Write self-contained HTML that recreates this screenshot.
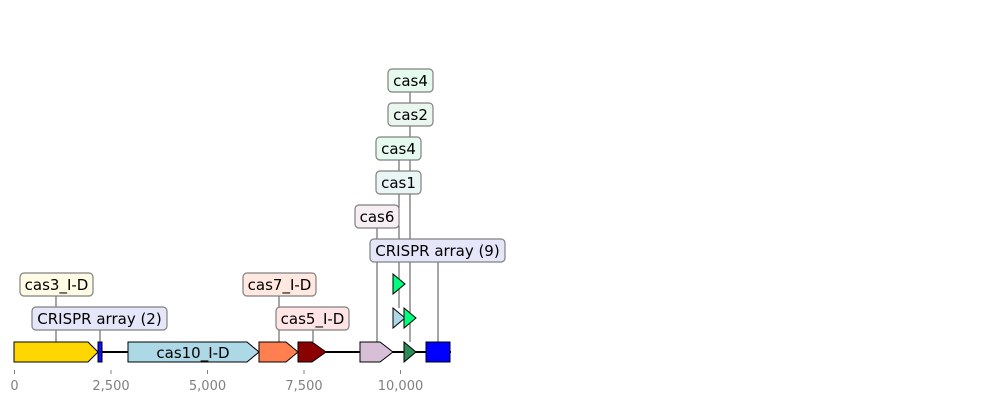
<!DOCTYPE html>
<html><head><meta charset="utf-8"><style>
html,body{margin:0;padding:0;background:#fff;}
svg{display:block;font-family:"DejaVu Sans","Liberation Sans",sans-serif;}
.lb{stroke:#808080;stroke-width:1.2;}
.t{font-size:15px;fill:#000;text-anchor:middle;dominant-baseline:central;}
.ln{stroke:#222;stroke-width:0.8;}
.f{stroke:#000;stroke-width:1;}
.ax{font-size:13px;fill:#808080;text-anchor:middle;}
</style></head><body>
<svg width="989" height="403" viewBox="0 0 989 403">
<line class="ln" x1="56" y1="296" x2="56" y2="342"/>
<line class="ln" x1="100" y1="330" x2="100" y2="342"/>
<line class="ln" x1="279" y1="296" x2="279" y2="342"/>
<line class="ln" x1="313" y1="330" x2="313" y2="342"/>
<line class="ln" x1="377" y1="228" x2="377" y2="342"/>
<line class="ln" x1="399" y1="160" x2="399" y2="308"/>
<line class="ln" x1="410" y1="92" x2="410" y2="342"/>
<line class="ln" x1="438" y1="262" x2="438" y2="342"/>
<line x1="14" y1="352" x2="451" y2="352" stroke="#000" stroke-width="2"/>
<polygon class="f" points="14,342 88,342 98,352 88,362 14,362" fill="#FFD700"/>
<rect class="f" x="98" y="342" width="4" height="20" fill="#1010ff"/>
<polygon class="f" points="128,342 247,342 259,352 247,362 128,362" fill="#ADD8E6"/>
<polygon class="f" points="259,342 286,342 298,352 286,362 259,362" fill="#FF7F50"/>
<polygon class="f" points="298,342 312,342 326,352 312,362 298,362" fill="#8B0000"/>
<polygon class="f" points="360,342 380,342 393,352 380,362 360,362" fill="#D8BFD8"/>
<polygon class="f" points="404,342 416,352 404,362" fill="#2E8B57"/>
<rect class="f" x="426" y="342" width="24" height="20" fill="#0000FF"/>
<polygon class="f" points="393,308 405,318 393,328" fill="#ADD8E6"/>
<polygon class="f" points="404,308 416,318 404,328" fill="#00FF7F"/>
<polygon class="f" points="393,274 405,284 393,294" fill="#00FF7F"/>
<text x="193" y="353" class="t">cas10_I-D</text>
<rect class="lb" x="20" y="273" width="73" height="23" rx="4" fill="#FFFBE4"/><text class="t" x="56.5" y="285">cas3_I-D</text>
<rect class="lb" x="32" y="307" width="135" height="23" rx="4" fill="#E6E6FA"/><text class="t" x="99.5" y="319">CRISPR array (2)</text>
<rect class="lb" x="243" y="273" width="73" height="23" rx="4" fill="#FFE8E0"/><text class="t" x="279.5" y="285">cas7_I-D</text>
<rect class="lb" x="276" y="307" width="73" height="23" rx="4" fill="#FFE4E6"/><text class="t" x="312.5" y="319">cas5_I-D</text>
<rect class="lb" x="370" y="239" width="135" height="23" rx="4" fill="#E6E6FA"/><text class="t" x="437.5" y="251">CRISPR array (9)</text>
<rect class="lb" x="355" y="205" width="44" height="23" rx="4" fill="#F7EEF3"/><text class="t" x="377" y="217">cas6</text>
<rect class="lb" x="376" y="171" width="45" height="23" rx="4" fill="#EAF6F6"/><text class="t" x="398.5" y="183">cas1</text>
<rect class="lb" x="376" y="137" width="45" height="23" rx="4" fill="#E6FBEF"/><text class="t" x="398.5" y="149">cas4</text>
<rect class="lb" x="388" y="103" width="45" height="23" rx="4" fill="#EAF7EE"/><text class="t" x="410.5" y="115">cas2</text>
<rect class="lb" x="388" y="69" width="45" height="23" rx="4" fill="#E6FBEF"/><text class="t" x="410.5" y="81">cas4</text>
<g stroke="#808080" stroke-width="1">
<line x1="14.5" y1="370" x2="14.5" y2="374"/>
<line x1="111" y1="370" x2="111" y2="374"/>
<line x1="207.5" y1="370" x2="207.5" y2="374"/>
<line x1="304" y1="370" x2="304" y2="374"/>
<line x1="400.5" y1="370" x2="400.5" y2="374"/>
</g>
<text class="ax" x="14.5" y="390">0</text>
<text class="ax" x="111" y="390">2,500</text>
<text class="ax" x="207.5" y="390">5,000</text>
<text class="ax" x="304" y="390">7,500</text>
<text class="ax" x="400.5" y="390">10,000</text>
</svg>
</body></html>
